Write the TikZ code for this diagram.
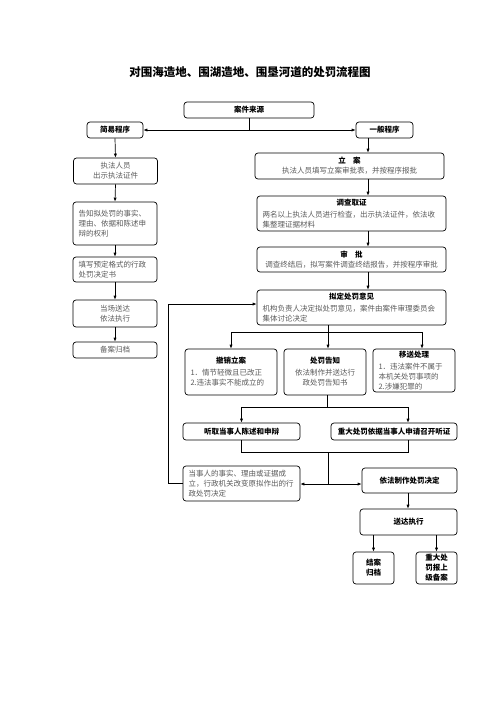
\documentclass[tikz,border=0pt]{standalone}
\usepackage{fontspec}
\newfontfamily\cjk{Noto Sans CJK SC}
\usetikzlibrary{arrows.meta}
\newcommand{\boxtitle}[1]{\makebox[\hsize]{\bfseries\color{black}#1}\\[2pt]}
\tikzset{
  box/.style={draw, rounded corners=3pt, line width=0.7pt, inner xsep=4pt, inner ysep=1pt,
    font=\cjk\fontsize{7.5}{10}\selectfont, text=black!65, align=center},
  lbox/.style={box, align=left, inner xsep=5.5pt},
  hbox/.style={box, font=\cjk\bfseries\fontsize{7.5}{10}\selectfont, text=black},
  arr/.style={-{Latex[length=4pt,width=3.2pt]}, line width=0.7pt},
  link/.style={line width=0.7pt}
}
\begin{document}
\begin{tikzpicture}[x=1pt, y=-1pt]
	\useasboundingbox (0,0) rectangle (496,702);
	\node[font=\cjk\bfseries\fontsize{11.5}{14}\selectfont] (title) at (250,72) {对围海造地、围湖造地、围垦河道的处罚流程图};
	% top
	\node[hbox, minimum width=130pt, minimum height=16pt] (src) at (249,110) {案件来源};
	\node[hbox, minimum width=56pt, minimum height=16pt] (simple) at (115,130) {简易程序};
	\node[hbox, minimum width=57pt, minimum height=16pt] (general) at (384.5,130) {一般程序};
	% simple procedure
	\node[box, minimum width=84pt, minimum height=26pt] (L1) at (115.5,171) {执法人员\\出示执法证件};
	\node[lbox, minimum width=84pt, minimum height=43pt, text width=73pt] (L2) at (115,223.5) {告知拟处罚的事实、\\理由、依据和陈述申\\辩的权利};
	\node[lbox, minimum width=84pt, minimum height=25pt, text width=73pt] (L3) at (115,269.5) {填写预定格式的行政\\处罚决定书};
	\node[box, minimum width=84pt, minimum height=27pt] (L4) at (115,313.5) {当场送达\\依法执行};
	\node[box, minimum width=84pt, minimum height=16pt] (L5) at (115,350) {备案归档};
	% general procedure
	\node[box, minimum width=189pt, minimum height=26pt] (R1) at (349.5,166) {{\bfseries\color{black}立\quad 案}\\执法人员填写立案审批表，并按程序报批};
	\node[lbox, minimum width=189pt, minimum height=35pt, text width=178pt] (R2) at (351.5,213.5) {\boxtitle{调查取证}两名以上执法人员进行检查，出示执法证件，依法收\\集整理证据材料};
	\node[box, minimum width=189pt, minimum height=25pt] (R3) at (351.5,259.5) {{\bfseries\color{black}审\quad 批}\\调查终结后，拟写案件调查终结报告，并按程序审批};
	\node[lbox, minimum width=189pt, minimum height=35pt, text width=178pt] (R4) at (351.5,307.5) {\boxtitle{拟定处罚意见}机构负责人决定拟处罚意见，案件由案件审理委员会\\集体讨论决定};
	\node[lbox, minimum width=92pt, minimum height=46pt, text width=81pt] (C1) at (231,372) {\boxtitle{撤销立案}1．情节轻微且已改正\\2.违法事实不能成立的};
	\node[box, minimum width=82pt, minimum height=46pt] (C2) at (325,372) {{\bfseries\color{black}处罚告知}\\[2pt]依法制作并送达行\\政处罚告知书};
	\node[lbox, minimum width=82pt, minimum height=43pt, text width=71pt] (C3) at (414,370.5) {\boxtitle{移送处理}1．违法案件不属于\\本机关处罚事项的\\2.涉嫌犯罪的};
	\node[hbox, minimum width=117pt, minimum height=17pt] (H1) at (241.5,431.5) {听取当事人陈述和申辩};
	\node[hbox, minimum width=126pt, minimum height=17pt] (H2) at (394,431.5) {重大处罚依据当事人申请召开听证};
	\node[lbox, minimum width=117pt, minimum height=35pt, text width=106pt] (D1) at (241.5,483.5) {当事人的事实、理由或证据成\\立，行政机关改变原拟作出的行\\政处罚决定};
	\node[hbox, minimum width=95pt, minimum height=25pt] (D2) at (409.5,480.5) {依法制作处罚决定};
	\node[hbox, minimum width=97pt, minimum height=26pt] (E1) at (408.5,522) {送达执行};
	\node[hbox, minimum width=41pt, minimum height=32pt] (F1) at (373.5,568) {结案\\归档};
	\node[hbox, minimum width=41pt, minimum height=32pt] (F2) at (436.5,568) {重大处\\罚报上\\级备案};
	% helper points
	\coordinate (spine) at (368,0);
	\coordinate (rcol) at (408,0);
	\coordinate (split1) at (328,332);
	\coordinate (c3drop) at (422,332);
	\coordinate (split2) at (327,407);
	\coordinate (join) at (328,452);
	\coordinate (hub) at (328,484);
	\coordinate (loop) at (168,304);
	% connectors
	\draw[link] (src.south) -- (src.south |- simple.east);
	\draw[arr] (src.south |- simple.east) -- (simple.east);
	\draw[arr] (src.south |- general.west) -- (general.west);
	\draw[arr] (simple.south) -- (L1.north);
	\draw[arr] (L1.south) -- (L2.north);
	\draw[arr] (L2.south) -- (L3.north);
	\draw[arr] (L3.south) -- (L4.north);
	\draw[arr] (L4.south) -- (L5.north);
	\draw[arr] (general.south -| spine) -- (R1.north -| spine);
	\draw[arr] (R1.south -| spine) -- (R2.north -| spine);
	\draw[arr] (R2.south -| spine) -- (R3.north -| spine);
	\draw[arr] (R3.south -| spine) -- (R4.north -| spine);
	\draw[link] (R4.south -| split1) -- (split1);
	\draw[arr] (split1) -| (C1.north);
	\draw[arr] (split1) -- (C2.north -| split1);
	\draw[arr] (split1) -- (c3drop) -- (c3drop |- C3.north);
	\draw[link] (C2.south -| split2) -- (split2);
	\draw[arr] (split2) -| (H1.north);
	\draw[arr] (split2) -| (H2.north -| rcol);
	\draw[link] (H1.south) |- (join -| rcol) -- (H2.south -| rcol);
	\draw[link] (join) -- (hub);
	\draw[{Latex[length=4pt,width=3.2pt]}-{Latex[length=4pt,width=3.2pt]}, line width=0.7pt] (D1.east |- hub) -- (D2.west |- hub);
	\draw[arr] (D1.west) -| (loop) -- (loop -| R4.west);
	\draw[arr] (D2.south -| rcol) -- (E1.north -| rcol);
	\draw[arr] (E1.south -| F1) -- (F1.north);
	\draw[arr] (E1.south -| F2) -- (F2.north);
\end{tikzpicture}
\end{document}
